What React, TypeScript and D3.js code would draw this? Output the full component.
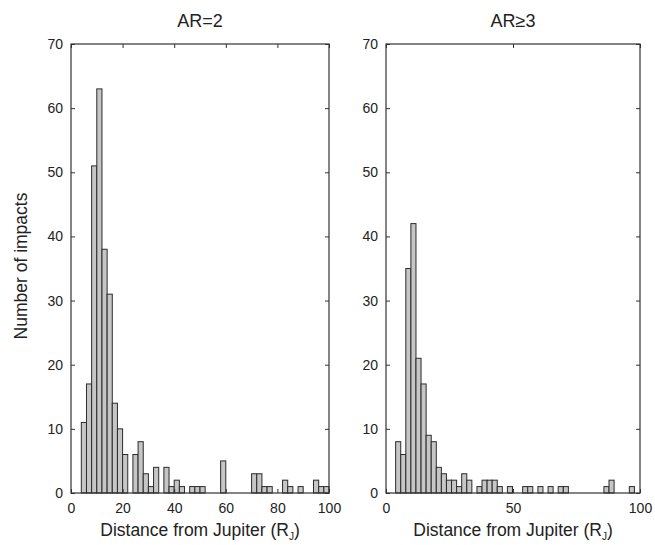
import React, { useRef, useEffect } from 'react';
import * as d3 from 'd3';

// bin settings (2 R_J wide)
const binWidth = 2;
const ar2Start = 4;
const ar3Start = 3.8;

// counts per bin, AR=2 (bins 4..100)
const ar2Counts = [
  11, 17, 51, 63, 38, 31, 14, 10, 6, 0,
  6, 8, 3, 1, 4, 0, 4, 1, 2, 1,
  0, 1, 1, 1, 0, 0, 0, 5, 0, 0,
  0, 0, 0, 3, 3, 1, 1, 0, 0, 2,
  1, 0, 1, 0, 0, 2, 1, 1,
];

// counts per bin, AR>=3
const ar3Counts = [
  8, 6, 35, 42, 21, 17, 9, 8, 4, 3,
  2, 2, 1, 3, 2, 0, 1, 2, 2, 2,
  1, 0, 1, 0, 0, 1, 1, 0, 1, 0,
  1, 0, 1, 1, 0, 0, 0, 0, 0, 0,
  0, 1, 2, 0, 0, 0, 1,
];

const leftXTicks = [0, 20, 40, 60, 80, 100];
const rightXTicks = [0, 50, 100];
const yTicks = [0, 10, 20, 30, 40, 50, 60, 70];
const titles = ['AR=2', 'AR\u22653'];

const FONT = '"Liberation Sans", Arial, Helvetica, sans-serif';

const App = () => {
  const svgRef = useRef(null);

  useEffect(() => {
    const svg = d3.select(svgRef.current);
    svg.selectAll('*').remove();

    const top = 44, bottom = 493;
    const yScale = d3.scaleLinear().domain([0, 70]).range([bottom, top]);

    const panels = [
      { left: 71, right: 329, start: ar2Start, counts: ar2Counts, ticks: leftXTicks, title: titles[0] },
      { left: 386, right: 640, start: ar3Start, counts: ar3Counts, ticks: rightXTicks, title: titles[1] },
    ];

    panels.forEach(p => {
      const x = d3.scaleLinear().domain([0, 100]).range([p.left, p.right]);
      const bins = p.counts.map((c, i) => ({ x0: p.start + i * binWidth, x1: p.start + (i + 1) * binWidth, n: c }));
      const g = svg.append('g');

      g.selectAll('rect.bar')
        .data(bins.filter(d => d.n > 0))
        .join('rect')
        .attr('class', 'bar')
        .attr('x', d => x(d.x0))
        .attr('y', d => yScale(d.n))
        .attr('width', d => x(d.x1) - x(d.x0))
        .attr('height', d => yScale(0) - yScale(d.n))
        .attr('fill', '#c6c6c6')
        .attr('stroke', '#2b2b2b')
        .attr('stroke-width', 1);

      // axes: ticks point inward, like matlab
      const styleAxis = sel => {
        sel.select('.domain').remove();
        sel.selectAll('line').attr('stroke', '#333');
        sel.selectAll('text').attr('fill', '#222').style('font-family', FONT).style('font-size', '14px');
      };

      g.append('g')
        .attr('transform', `translate(0,${bottom})`)
        .call(d3.axisBottom(x).tickValues(p.ticks).tickSizeInner(-4).tickSizeOuter(0).tickPadding(10))
        .call(styleAxis);
      g.append('g')
        .attr('transform', `translate(0,${top})`)
        .call(d3.axisTop(x).tickValues(p.ticks).tickSizeInner(-4).tickSizeOuter(0).tickFormat(() => ''))
        .call(styleAxis);
      g.append('g')
        .attr('transform', `translate(${p.left},0)`)
        .call(d3.axisLeft(yScale).tickValues(yTicks).tickSizeInner(-4).tickSizeOuter(0).tickPadding(8))
        .call(styleAxis);
      g.append('g')
        .attr('transform', `translate(${p.right},0)`)
        .call(d3.axisRight(yScale).tickValues(yTicks).tickSizeInner(-4).tickSizeOuter(0).tickFormat(() => ''))
        .call(styleAxis);

      // box
      g.append('rect')
        .attr('x', p.left)
        .attr('y', top)
        .attr('width', p.right - p.left)
        .attr('height', bottom - top)
        .attr('fill', 'none')
        .attr('stroke', '#333')
        .attr('stroke-width', 1.2);

      g.append('text')
        .attr('x', (p.left + p.right) / 2)
        .attr('y', 27)
        .attr('text-anchor', 'middle')
        .style('font-family', FONT)
        .style('font-size', '18px')
        .attr('fill', '#222')
        .text(p.title);

      const xl = g.append('text')
        .attr('x', (p.left + p.right) / 2)
        .attr('y', 536)
        .attr('text-anchor', 'middle')
        .style('font-family', FONT)
        .style('font-size', '17.5px')
        .attr('fill', '#222');
      xl.append('tspan').text('Distance from Jupiter (R');
      xl.append('tspan').attr('dy', 4).style('font-size', '10px').text('J');
      xl.append('tspan').attr('dy', -4).text(')');
    });

    svg.append('text')
      .attr('transform', 'translate(27,266) rotate(-90)')
      .attr('text-anchor', 'middle')
      .style('font-family', FONT)
      .style('font-size', '17.5px')
      .attr('fill', '#222')
      .text('Number of impacts');
  }, []);

  return (
    <svg
      ref={svgRef}
      width={655}
      height={545}
      style={{ position: 'absolute', left: 0, top: 0, background: '#fff' }}
    />
  );
};

export default App;
